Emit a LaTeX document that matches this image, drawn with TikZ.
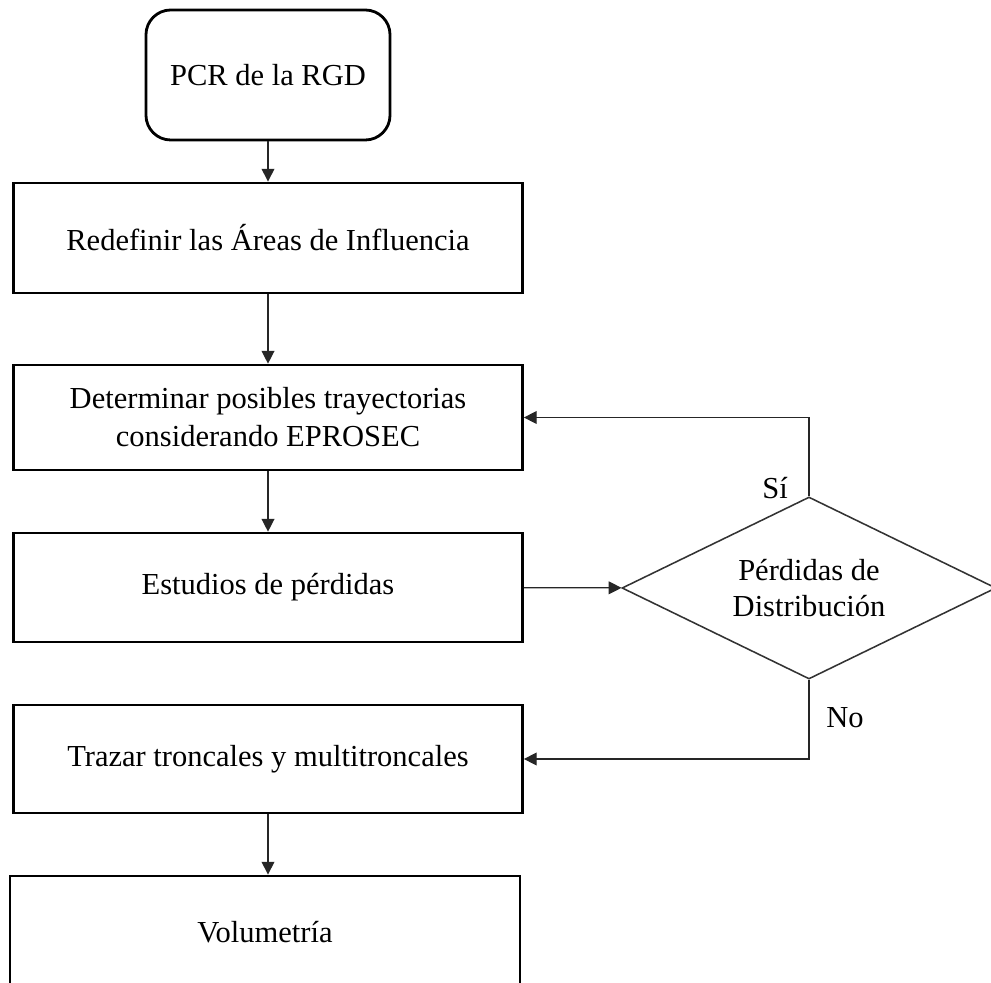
\documentclass[tikz,border=0pt]{standalone}
\usepackage{fontspec}
\setmainfont{Liberation Serif}
\usetikzlibrary{shapes.geometric}
\usetikzlibrary{arrows.meta}

\begin{document}
\begin{tikzpicture}[x=0.025cm, y=-0.025cm,
		every node/.style={font=\fontsize{21.7}{27}\selectfont},
		proc/.style={draw, line width=2pt, minimum width=12.72cm, align=center, inner sep=0pt},
		start/.style={draw, line width=2pt, rounded corners=0.62cm, minimum width=6.1cm, minimum height=3.25cm},
		decide/.style={draw=black!80, line width=1.1pt, diamond, aspect=2, inner sep=0pt, minimum width=9.35cm, minimum height=4.55cm, align=center, font=\fontsize{21.7}{25.5}\selectfont},
		conn/.style={draw=black!85, line width=0.9pt, -{Triangle[length=0.32cm, width=0.32cm]}}]
			\useasboundingbox (0,0) rectangle (991,983);
			
			\node[start] (pcr) at (268,75) {PCR de la RGD};
			\node[proc, minimum height=2.75cm] (redef) at (268,238) {Redefinir las Áreas de Influencia};
			\node[proc, minimum height=2.62cm] (determ) at (268,417.5) {Determinar posibles trayectorias\\considerando EPROSEC};
			\node[proc, minimum height=2.72cm] (estud) at (268,587.5) {Estudios de pérdidas};
			\node[proc, minimum height=2.7cm] (trazar) at (268,759) {Trazar troncales y multitroncales};
			\node[proc, minimum height=2.8cm, minimum width=12.75cm] (vol) at (265,932) {Volumetría};
			
			\node[decide] (perd) at (809,588) {Pérdidas de\\Distribución};
			
			\node (si) at (775,488) {Sí};
			\node (no) at (845,718) {No};
			
			\draw[conn] (pcr) -- (redef);
			\draw[conn] (redef) -- (determ);
			\draw[conn] (determ) -- (estud);
			\draw[conn] (estud) -- (perd);
			\draw[conn] (perd.north) |- (determ.east);
			\draw[conn] (perd.south) |- (trazar.east);
			\draw[conn] (trazar.south) -- (trazar.south |- vol.north);
		\end{tikzpicture}
\end{document}
